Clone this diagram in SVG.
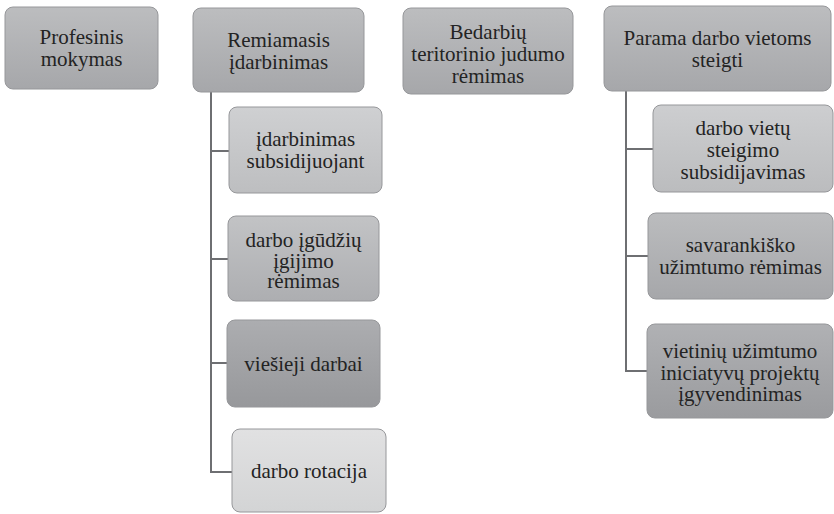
<svg xmlns="http://www.w3.org/2000/svg" width="834" height="514" viewBox="0 0 834 514">
<defs>
<linearGradient id="gTop" x1="0" y1="0" x2="0" y2="1"><stop offset="0" stop-color="#bcbdbf"/><stop offset="1" stop-color="#a6a7aa"/></linearGradient>
<linearGradient id="gA" x1="0" y1="0" x2="0" y2="1"><stop offset="0" stop-color="#cfd0d2"/><stop offset="1" stop-color="#bdbec0"/></linearGradient>
<linearGradient id="gB" x1="0" y1="0" x2="0" y2="1"><stop offset="0" stop-color="#c2c3c5"/><stop offset="1" stop-color="#adaeb1"/></linearGradient>
<linearGradient id="gC" x1="0" y1="0" x2="0" y2="1"><stop offset="0" stop-color="#acadb0"/><stop offset="1" stop-color="#97989b"/></linearGradient>
<linearGradient id="gD" x1="0" y1="0" x2="0" y2="1"><stop offset="0" stop-color="#e1e1e2"/><stop offset="1" stop-color="#d3d4d5"/></linearGradient>
<linearGradient id="gE" x1="0" y1="0" x2="0" y2="1"><stop offset="0" stop-color="#cdced0"/><stop offset="1" stop-color="#bbbcbe"/></linearGradient>
<linearGradient id="gF" x1="0" y1="0" x2="0" y2="1"><stop offset="0" stop-color="#bbbcbe"/><stop offset="1" stop-color="#a6a7aa"/></linearGradient>
<linearGradient id="gG" x1="0" y1="0" x2="0" y2="1"><stop offset="0" stop-color="#b0b1b4"/><stop offset="1" stop-color="#9a9b9e"/></linearGradient>
</defs>
<style>
.box{stroke:#96979a;stroke-width:1;}
.conn line{stroke:#6e6f72;stroke-width:2;fill:none;}
</style>
<g id="connectors" class="conn">
<line x1="211" y1="92" x2="211" y2="473"/>
<line x1="210" y1="151" x2="229" y2="151"/>
<line x1="210" y1="259" x2="228" y2="259"/>
<line x1="210" y1="363" x2="227" y2="363"/>
<line x1="210" y1="472" x2="232" y2="472"/>
<line x1="626" y1="91" x2="626" y2="372"/>
<line x1="625" y1="149" x2="653" y2="149"/>
<line x1="625" y1="256" x2="648" y2="256"/>
<line x1="625" y1="371" x2="647" y2="371"/>
</g>
<g id="n1"><rect class="box" x="5" y="7" width="153" height="82" rx="8" fill="url(#gTop)"/>
<text style="font-family:Times New Roman, Liberation Serif, serif;font-size:21px;fill:#232323" text-anchor="middle" x="81.5" y="44">Profesinis</text>
<text style="font-family:Times New Roman, Liberation Serif, serif;font-size:21px;fill:#232323" text-anchor="middle" x="81.5" y="66">mokymas</text></g>
<g id="n2"><rect class="box" x="193" y="8" width="171" height="84" rx="8" fill="url(#gTop)"/>
<text style="font-family:Times New Roman, Liberation Serif, serif;font-size:21px;fill:#232323" text-anchor="middle" x="278.5" y="47">Remiamasis</text>
<text style="font-family:Times New Roman, Liberation Serif, serif;font-size:21px;fill:#232323" text-anchor="middle" x="278.5" y="69">įdarbinimas</text></g>
<g id="n3"><rect class="box" x="403" y="8" width="170" height="86" rx="8" fill="url(#gTop)"/>
<text style="font-family:Times New Roman, Liberation Serif, serif;font-size:21px;fill:#232323" text-anchor="middle" x="488" y="39">Bedarbių</text>
<text style="font-family:Times New Roman, Liberation Serif, serif;font-size:21px;fill:#232323" text-anchor="middle" x="488" y="61">teritorinio judumo</text>
<text style="font-family:Times New Roman, Liberation Serif, serif;font-size:21px;fill:#232323" text-anchor="middle" x="488" y="83">rėmimas</text></g>
<g id="n4"><rect class="box" x="604" y="6" width="227" height="85" rx="8" fill="url(#gTop)"/>
<text style="font-family:Times New Roman, Liberation Serif, serif;font-size:21px;fill:#232323" text-anchor="middle" x="717.5" y="45">Parama darbo vietoms</text>
<text style="font-family:Times New Roman, Liberation Serif, serif;font-size:21px;fill:#232323" text-anchor="middle" x="717.5" y="67">steigti</text></g>
<g id="c21"><rect class="box" x="229" y="107" width="153" height="86" rx="8" fill="url(#gA)"/>
<text style="font-family:Times New Roman, Liberation Serif, serif;font-size:21px;fill:#232323" text-anchor="middle" x="305.5" y="146">įdarbinimas</text>
<text style="font-family:Times New Roman, Liberation Serif, serif;font-size:21px;fill:#232323" text-anchor="middle" x="305.5" y="168">subsidijuojant</text></g>
<g id="c22"><rect class="box" x="228" y="216" width="151" height="85" rx="8" fill="url(#gB)"/>
<text style="font-family:Times New Roman, Liberation Serif, serif;font-size:21px;fill:#232323" text-anchor="middle" x="303.5" y="247">darbo įgūdžių</text>
<text style="font-family:Times New Roman, Liberation Serif, serif;font-size:21px;fill:#232323" text-anchor="middle" x="303.5" y="267.5">įgijimo</text>
<text style="font-family:Times New Roman, Liberation Serif, serif;font-size:21px;fill:#232323" text-anchor="middle" x="303.5" y="288">rėmimas</text></g>
<g id="c23"><rect class="box" x="227" y="320" width="153" height="87" rx="8" fill="url(#gC)"/>
<text style="font-family:Times New Roman, Liberation Serif, serif;font-size:21px;fill:#232323" text-anchor="middle" x="303.5" y="371">viešieji darbai</text></g>
<g id="c24"><rect class="box" x="232" y="429" width="154" height="83" rx="8" fill="url(#gD)"/>
<text style="font-family:Times New Roman, Liberation Serif, serif;font-size:21px;fill:#232323" text-anchor="middle" x="309" y="478">darbo rotacija</text></g>
<g id="c41"><rect class="box" x="653" y="105" width="180" height="87" rx="8" fill="url(#gE)"/>
<text style="font-family:Times New Roman, Liberation Serif, serif;font-size:21px;fill:#232323" text-anchor="middle" x="743" y="135">darbo vietų</text>
<text style="font-family:Times New Roman, Liberation Serif, serif;font-size:21px;fill:#232323" text-anchor="middle" x="743" y="157">steigimo</text>
<text style="font-family:Times New Roman, Liberation Serif, serif;font-size:21px;fill:#232323" text-anchor="middle" x="743" y="179">subsidijavimas</text></g>
<g id="c42"><rect class="box" x="648" y="213" width="185" height="86" rx="8" fill="url(#gF)"/>
<text style="font-family:Times New Roman, Liberation Serif, serif;font-size:21px;fill:#232323" text-anchor="middle" x="740.5" y="252">savarankiško</text>
<text style="font-family:Times New Roman, Liberation Serif, serif;font-size:21px;fill:#232323" text-anchor="middle" x="740.5" y="274">užimtumo rėmimas</text></g>
<g id="c43"><rect class="box" x="647" y="324" width="186" height="94" rx="8" fill="url(#gG)"/>
<text style="font-family:Times New Roman, Liberation Serif, serif;font-size:21px;fill:#232323" text-anchor="middle" x="740" y="358">vietinių užimtumo</text>
<text style="font-family:Times New Roman, Liberation Serif, serif;font-size:21px;fill:#232323" text-anchor="middle" x="740" y="380">iniciatyvų projektų</text>
<text style="font-family:Times New Roman, Liberation Serif, serif;font-size:21px;fill:#232323" text-anchor="middle" x="740" y="401">įgyvendinimas</text></g>
</svg>
